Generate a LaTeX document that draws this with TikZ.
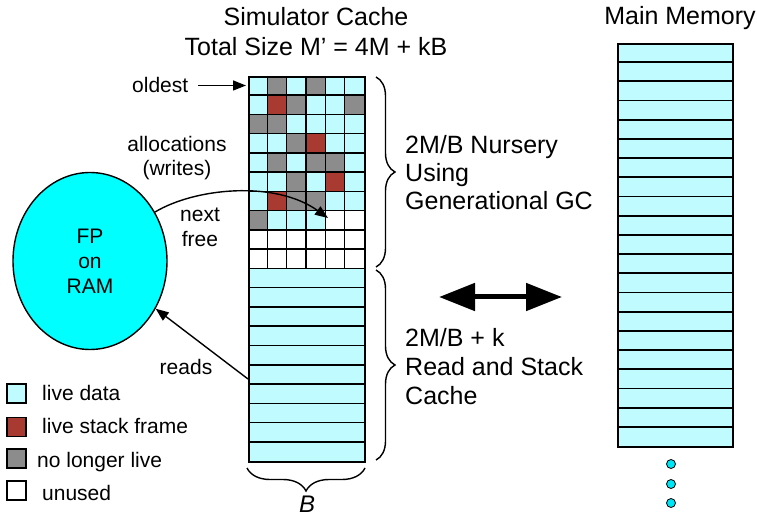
\documentclass[tikz,border=0pt]{standalone}
\usepackage{fontspec}
\setmainfont{Liberation Sans}
\usetikzlibrary{arrows.meta,decorations.pathreplacing,shapes.geometric}
\definecolor{cy}{HTML}{BFFBFF}
\definecolor{gy}{HTML}{8C8C8C}
\definecolor{rd}{HTML}{A83A32}
\definecolor{wt}{HTML}{FFFFFF}
\definecolor{fpcyan}{HTML}{00FFFF}
\definecolor{dotcyan}{HTML}{00E5F5}
\begin{document}
\begin{tikzpicture}[x=1pt,y=-1pt,
  bigtxt/.style={font=\fontsize{25}{28}\selectfont, inner sep=0pt, anchor=base west},
  titletxt/.style={font=\fontsize{25}{28}\selectfont, inner sep=0pt, anchor=base},
  smalltxt/.style={font=\fontsize{21}{25}\selectfont, inner sep=0pt, anchor=base},
  cellline/.style={line width=1.5pt},
  arr/.style={line width=1.4pt, -{Triangle[length=13pt,width=10pt]}},
  bigarr/.style={line width=5pt, {Triangle[length=36pt,width=27pt]}-{Triangle[length=36pt,width=27pt]}},
  bracestyle/.style={decorate, decoration={brace, amplitude=#1}, line width=1.4pt},
  legendbox/.style={draw, line width=1.4pt, minimum size=19pt, inner sep=0pt},
  memdot/.style={circle, draw, fill=dotcyan, line width=0.8pt, minimum size=9pt, inner sep=0pt}]
\useasboundingbox (0,0) rectangle (757,518);

% ---- simulator cache grid ----
\foreach \r/\cs in {0/{cy,gy,cy,gy,cy,cy}, 1/{cy,rd,gy,cy,cy,gy}, 2/{gy,gy,cy,cy,cy,cy}, 3/{cy,cy,gy,rd,cy,cy}, 4/{cy,gy,cy,gy,gy,cy}, 5/{cy,cy,gy,cy,rd,cy}, 6/{cy,rd,gy,gy,cy,cy}, 7/{gy,cy,cy,cy,wt,wt}, 8/{wt,wt,wt,wt,wt,wt}, 9/{wt,wt,wt,wt,wt,wt}}{
  \foreach \cc [count=\i from 0] in \cs
    \fill[fill=\cc] ({248+\i*19.3333},{76+\r*19.25}) rectangle ++(19.3333,19.25);
}
\fill[cy] (248,268.5) rectangle (364,461);
\foreach \k in {1,...,19} \draw[cellline] (248,{76+\k*19.25}) -- (364,{76+\k*19.25});
\foreach \k in {1,...,5} \draw[cellline] ({248+\k*19.3333},76) -- ({248+\k*19.3333},268.5);
\node[draw, line width=1.8pt, minimum width=116pt, minimum height=385pt, inner sep=0pt, anchor=north west] (cache) at (248,76) {};

% ---- main memory ----
\fill[cy] (617,43) rectangle (732,446);
\foreach \k in {1,...,20} \draw[line width=1.8pt] (617,{43+\k*19.19}) -- (732,{43+\k*19.19});
\node[draw, line width=1.8pt, minimum width=115pt, minimum height=403pt, inner sep=0pt, anchor=north west] (mem) at (617,43) {};
\node[memdot] (d1) at (671,464) {};
\node[memdot] (d2) at (671,484) {};
\node[memdot] (d3) at (671,503) {};

% ---- titles ----
\node[titletxt] (title1) at (316,26) {Simulator Cache};
\node[titletxt] (title2) at (316,56) {Total Size M’ = 4M + kB};
\node[titletxt] (mmtitle) at (680,25) {Main Memory};

% ---- braces and their labels ----
\draw[bracestyle=19pt] (376,77) -- (376,267);
\draw[bracestyle=19pt] (376,270) -- (376,460);
\draw[bracestyle=23pt] (365,468) -- (247,468);
\node[font=\fontsize{24}{28}\selectfont\itshape, inner sep=0pt, anchor=base] (blabel) at (307,512) {B};

\node[bigtxt] (n1) at (405,154) {2M/B Nursery};
\node[bigtxt] (n2) at (405,182) {Using};
\node[bigtxt] (n3) at (405,210) {Generational GC};
\node[bigtxt] (r1) at (405,346) {2M/B + k};
\node[bigtxt] (r2) at (405,375) {Read and Stack};
\node[bigtxt] (r3) at (405,404) {Cache};

% ---- FP on RAM ----
\node[ellipse, draw, fill=fpcyan, line width=1.4pt, minimum width=154pt, minimum height=177pt, inner sep=0pt,
      align=center, font=\fontsize{21}{25}\selectfont] (fp) at (90,261) {FP\\on\\RAM};

% ---- small labels ----
\node[smalltxt, anchor=base west] (oldest) at (132,93) {oldest};
\node[smalltxt] (alloc1) at (177,152) {allocations};
\node[smalltxt] (alloc2) at (177,176) {(writes)};
\node[smalltxt] (next1) at (200,222) {next};
\node[smalltxt] (next2) at (200,247) {free};
\node[smalltxt] (reads) at (186,374) {reads};

% ---- connectors ----
\coordinate (nf) at (328,218);
\coordinate (rdstart) at (248,379);
\draw[arr, shorten <=10pt, shorten >=2pt] (oldest.east) -- (oldest.east -| cache.west);
\draw[arr] (fp.37) .. controls (195,188) and (275,180) .. (nf);
\draw[arr] (rdstart) -- (fp.-36);
\coordinate (da) at (439,297);
\coordinate (db) at (562,297);
\draw[bigarr] (da) -- (db);

% ---- legend ----
\node[legendbox, fill=cy] (lg1) at (16.5,393.5) {};
\node[legendbox, fill=rd] (lg2) at (16.5,427) {};
\node[legendbox, fill=gy] (lg3) at (16.5,458.5) {};
\node[legendbox, fill=wt] (lg4) at (16.5,490.5) {};
\node[smalltxt, anchor=base west] (lt1) at (42,400) {live data};
\node[smalltxt, anchor=base west] (lt2) at (42,433) {live stack frame};
\node[smalltxt, anchor=base west] (lt3) at (37,467) {no longer live};
\node[smalltxt, anchor=base west] (lt4) at (42,500) {unused};
\end{tikzpicture}
\end{document}
